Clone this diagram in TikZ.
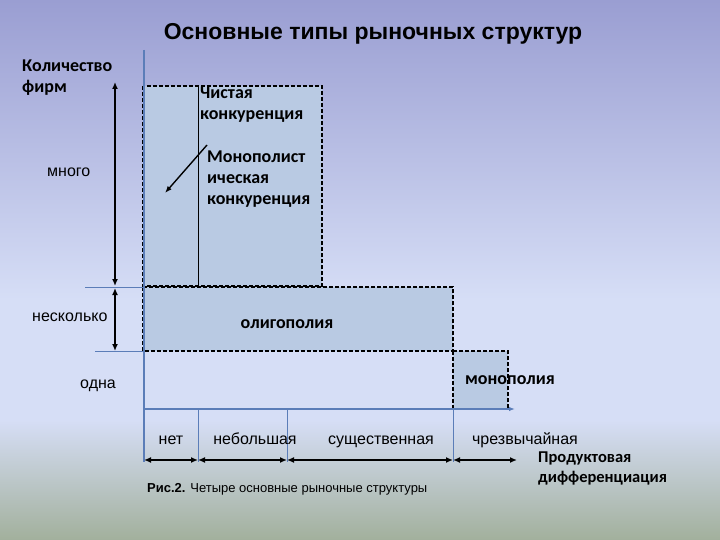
\documentclass[tikz,border=0pt]{standalone}
\usepackage{fontspec}
\setmainfont{Liberation Sans}
\newfontfamily\calfnt{Carlito}
\usetikzlibrary{arrows.meta}
\definecolor{bgtop}{HTML}{9A9ED2}
\definecolor{bgmid}{HTML}{D6DEF6}
\definecolor{bgbot}{HTML}{A2B09C}
\definecolor{boxf}{HTML}{B9CAE3}
\definecolor{axisc}{HTML}{5B7DB8}
\tikzset{
  box/.style={draw=black, line width=1.6pt, dash pattern=on 4pt off 2pt, fill=boxf},
  dim/.style={line width=1.6pt, {Latex[length=7pt,width=6pt]}-{Latex[length=7pt,width=6pt]}},
  thinax/.style={draw=axisc, line width=0.8pt},
  lbl/.style={font=\fontsize{16}{18}\selectfont, anchor=base west, inner sep=0},
  lblb/.style={font=\calfnt\bfseries\fontsize{18}{21}\selectfont, align=left, anchor=base west, inner sep=0},
  bot/.style={font=\fontsize{16}{18}\selectfont, anchor=base, inner sep=0}
}
\begin{document}
\begin{tikzpicture}[x=1pt,y=-1pt]
\useasboundingbox (0,0) rectangle (720,540);
\shade[top color=bgtop, bottom color=bgmid] (0,0) rectangle (720,300);
\fill[bgmid] (0,299) rectangle (720,421);
\shade[top color=bgmid, bottom color=bgbot] (0,420) rectangle (720,540);
% boxes
\draw[box] (143,86) rectangle (322,286);
\draw[box] (143,287) rectangle (453,351);
\draw[box] (453,351) rectangle (508,409);
\draw[black, line width=0.8pt] (198,86) -- (198,286);
% axes
\coordinate (ytop) at (144,50);
\coordinate (o) at (144,409);
\coordinate (xend) at (515,409);
\draw[axisc, line width=1.4pt] (ytop) -- (144,462);
\draw[axisc, line width=1.2pt, -{Latex[length=6pt]}] (o) -- (xend);
\draw[thinax] (85,287) -- (143,287);
\draw[thinax] (95,351) -- (143,351);
\foreach \x in {198,287,453} \draw[thinax] (\x,409) -- (\x,462);
% left dims
\coordinate (l1) at (115,82); \coordinate (l2) at (115,286);
\coordinate (l3) at (115,288); \coordinate (l4) at (115,351);
\draw[dim] (l1) -- (l2);
\draw[dim] (l3) -- (l4);
% bottom dims
\coordinate (b0) at (144,460); \coordinate (b1) at (198,460);
\coordinate (b2) at (287,460); \coordinate (b3) at (453,460);
\coordinate (b4) at (517,460);
\draw[dim] (b0) -- (b1); \draw[dim] (b1) -- (b2);
\draw[dim] (b2) -- (b3); \draw[dim] (b3) -- (b4);
% texts
\node[font=\bfseries\fontsize{23}{26}\selectfont] (title) at (373,34) {Основные типы рыночных структур};
\node[lblb] (kol) at (22,93) {Количество\\фирм};
\node[lbl] (mn) at (47,177) {много};
\node[lbl] (nes) at (32,321) {несколько};
\node[lbl] (od) at (80,388) {одна};
\node[lblb] (chk) at (200,120) {Чистая\\конкуренция};
\node[lblb, font=\calfnt\bfseries\fontsize{18}{21.5}\selectfont] (mk) at (207,205) {Монополист\\ическая\\конкуренция};
\coordinate (a1) at (207,145); \coordinate (a2) at (165,193);
\draw[line width=1.4pt, -{Latex[length=7pt]}] (a1) -- (a2);
\node[lblb, anchor=base] (ol) at (287,328) {олигополия};
\node[lblb, anchor=base] (mo) at (510,384) {монополия};
\node[bot] (t1) at (171,444) {нет};
\node[bot] (t2) at (255,444) {небольшая};
\node[bot] (t3) at (381,444) {существенная};
\node[bot] (t4) at (525,444) {чрезвычайная};
\node[anchor=base west, font=\fontsize{13}{15}\selectfont, inner sep=0] (cap) at (147,492) {\textbf{Рис.2.} Четыре основные рыночные структуры};
\node[lblb, font=\calfnt\bfseries\fontsize{16.5}{19.5}\selectfont] (pd) at (538,482) {Продуктовая\\дифференциация};
\end{tikzpicture}
\end{document}
